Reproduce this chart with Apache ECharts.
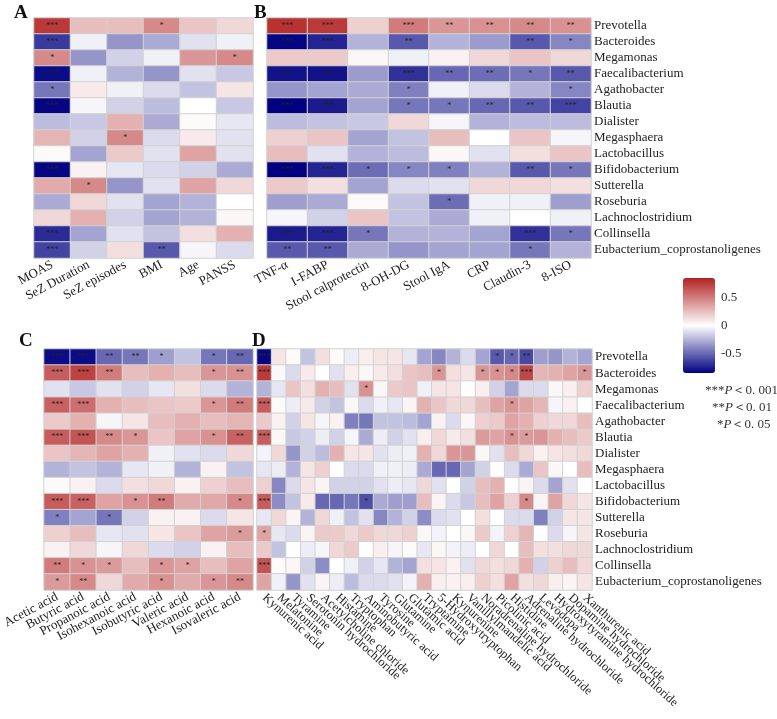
<!DOCTYPE html>
<html><head><meta charset="utf-8">
<script src="https://cdn.jsdelivr.net/npm/echarts@6/dist/echarts.min.js"></script>
<style>html,body{margin:0;padding:0;background:#fff}#c{width:777px;height:719px}</style>
</head><body><div id="c"></div>
<script>
const bacteria = ['Prevotella','Bacteroides','Megamonas','Faecalibacterium','Agathobacter','Blautia','Dialister','Megasphaera','Lactobacillus','Bifidobacterium','Sutterella','Roseburia','Lachnoclostridium','Collinsella','Eubacterium_coprostanoligenes'];

const colsA = ['MOAS','SeZ Duration','SeZ episodes','BMI','Age','PANSS'];
const valsA = [
 [0.75,0.25,0.25,0.45,0.22,0.15],
 [-0.65,-0.05,-0.35,-0.28,-0.1,-0.05],
 [0.45,-0.35,-0.15,-0.05,0.4,0.45],
 [-0.8,-0.05,-0.25,-0.35,-0.1,-0.18],
 [-0.45,0.08,-0.05,-0.12,-0.2,0.1],
 [-0.82,-0.03,-0.15,-0.22,0,-0.18],
 [-0.22,-0.18,0.3,-0.28,0.02,-0.08],
 [0.28,-0.15,0.45,-0.12,0.08,-0.1],
 [0.02,-0.3,0.2,-0.1,0.35,-0.1],
 [-0.82,0.05,-0.08,-0.12,-0.15,-0.28],
 [0.32,0.45,-0.35,-0.1,0.35,0.15],
 [-0.28,0.15,-0.1,-0.3,-0.25,0],
 [0.15,0.3,-0.15,-0.3,-0.25,0.03],
 [-0.7,-0.3,-0.1,-0.2,0.12,0.3],
 [-0.62,-0.15,0.12,-0.55,-0.03,-0.12]
];
// [row, col, number of stars]
const starsA = [[0,0,3],[0,3,1],[1,0,3],[2,0,1],[2,5,1],[3,0,3],[4,0,1],[5,0,3],[7,2,1],[9,0,3],[10,1,1],[13,0,3],[14,0,3],[14,3,2]];

const colsB = ['TNF-α','I-FABP','Stool calprotectin','8-OH-DG','Stool IgA','CRP','Claudin-3','8-ISO'];
const valsB = [
 [0.78,0.75,0.18,0.5,0.4,0.42,0.45,0.42],
 [-0.82,-0.72,-0.25,-0.55,-0.25,-0.33,-0.55,-0.4],
 [0.2,0.2,0.03,-0.05,0.05,0.15,0.22,0.15],
 [-0.78,-0.78,-0.33,-0.68,-0.5,-0.48,-0.45,-0.55],
 [-0.35,-0.3,-0.28,-0.42,-0.05,-0.12,-0.25,-0.4],
 [-0.85,-0.75,-0.3,-0.45,-0.45,-0.5,-0.55,-0.62],
 [-0.22,-0.2,-0.18,0.15,-0.03,-0.25,-0.22,-0.22],
 [0.18,0.22,-0.3,-0.2,0.25,0,0.22,-0.03],
 [0.25,-0.1,-0.25,-0.22,0.03,-0.1,0.12,0.22],
 [-0.85,-0.72,-0.48,-0.4,-0.42,-0.25,-0.55,-0.45],
 [0.2,0.12,-0.3,-0.12,-0.1,0.15,0.15,0.12],
 [-0.32,-0.28,0.02,-0.2,-0.48,-0.05,-0.05,-0.32],
 [-0.03,-0.15,0.22,-0.2,-0.28,-0.05,0,-0.05],
 [-0.75,-0.72,-0.45,-0.25,-0.25,-0.3,-0.68,-0.45],
 [-0.55,-0.55,-0.28,-0.35,-0.3,-0.3,-0.45,-0.25]
];
const starsB = [
 [0,0,3],[0,1,3],[0,3,3],[0,4,2],[0,5,2],[0,6,2],[0,7,2],
 [1,0,3],[1,1,3],[1,3,2],[1,6,2],[1,7,1],
 [3,0,3],[3,1,3],[3,3,3],[3,4,2],[3,5,2],[3,6,1],[3,7,2],
 [4,3,1],[4,7,1],
 [5,0,3],[5,1,3],[5,3,1],[5,4,1],[5,5,2],[5,6,2],[5,7,3],
 [9,0,3],[9,1,3],[9,2,1],[9,3,1],[9,4,1],[9,6,2],[9,7,1],
 [11,4,1],
 [13,0,3],[13,1,3],[13,2,1],[13,6,3],[13,7,1],
 [14,0,2],[14,1,2],[14,6,1]
];

const colsC = ['Acetic acid','Butyric acid','Propanoic acid','Isohexanoic acid','Isobutyric acid','Valeric acid','Hexanoic acid','Isovaleric acid'];
const valsC = [
 [-0.8,-0.8,-0.5,-0.45,-0.32,-0.2,-0.45,-0.5],
 [0.62,0.72,0.5,0.25,0.3,0.25,0.4,0.42],
 [-0.1,-0.18,-0.1,-0.15,-0.08,0.12,-0.12,-0.25],
 [0.6,0.55,0.3,0.25,0.22,0.2,0.4,0.5],
 [0.2,0.3,-0.03,0.1,0.25,0.3,0.25,0.28],
 [0.62,0.65,0.45,0.4,0.22,0.35,0.42,0.6],
 [0.22,0.28,0.35,0.3,-0.05,-0.1,-0.12,0.15],
 [-0.25,-0.2,-0.25,-0.08,-0.05,-0.25,0.05,-0.2],
 [0.02,0.05,-0.12,0.12,0.15,0.05,0.18,0.25],
 [0.62,0.6,0.35,0.42,0.5,0.32,0.33,0.45],
 [-0.42,-0.3,-0.45,-0.15,0.05,0.05,-0.12,0.1],
 [0.18,0.25,-0.08,-0.1,0.1,0.22,0.35,0.38],
 [0.05,0.15,-0.03,0.15,-0.12,-0.15,0.05,0.25],
 [0.5,0.42,0.38,0.25,0.4,0.35,0.25,0.35],
 [0.38,0.45,0.15,0.32,0.42,0.32,0.4,0.45]
];
const starsC = [
 [0,0,3],[0,1,3],[0,2,2],[0,3,2],[0,4,1],[0,6,1],[0,7,2],
 [1,0,3],[1,1,3],[1,2,2],[1,6,1],[1,7,2],
 [3,0,3],[3,1,3],[3,6,1],[3,7,2],
 [5,0,3],[5,1,3],[5,2,2],[5,3,1],[5,6,1],[5,7,2],
 [9,0,3],[9,1,3],[9,3,1],[9,4,2],[9,7,1],
 [10,0,1],[10,2,1],
 [11,7,1],
 [13,0,2],[13,1,1],[13,2,1],[13,4,1],[13,5,1],
 [14,0,1],[14,1,2],[14,4,1],[14,6,1],[14,7,2]
];

const colsD = ['Kynurenic acid','Melatonine','Tyramine','Serotonin hydrochloride','Acetylcholine chloride','Histamine','Tryptophan','Aminobutyric acid','Tyrosine','Glutamine','Glutamic acid','Tryptamine','5-Hydroxytryptophan','Kynurenine','Vanillylmandelic acid','Noradrenaline hydrochloride','Picolinic acid','Histidine','Adrenaline hydrochloride','Levodopa','Hydroxytyramine hydrochloride','Dopamine hydrochloride','Xanthurenic acid'];
const valsD = [
 [-0.82,0.1,0.02,-0.2,0.12,0.02,-0.06,0.06,0.1,0.1,-0.08,-0.3,-0.4,-0.25,-0.12,-0.3,-0.55,-0.5,-0.6,-0.32,-0.35,-0.25,-0.3],
 [0.75,-0.02,-0.12,0.08,0,-0.1,0.06,0.03,0.08,0.12,0.22,0.25,0.4,0.12,0.1,0.4,0.42,0.45,0.7,0.28,0.3,0.35,0.4],
 [-0.25,-0.08,0.22,0.12,0.3,0.25,-0.1,0.42,0.03,0.2,0.22,-0.05,0.1,0.1,0,0.06,-0.15,-0.3,-0.12,-0.12,0.03,0.06,0.18],
 [0.62,0.02,-0.06,0.08,-0.15,-0.2,0.03,-0.12,-0.05,-0.08,0.04,0.3,0.22,0.15,0.15,0.25,0.35,0.4,0.35,0.28,-0.03,0.05,0],
 [0.2,0.05,-0.15,0.1,-0.03,0.05,-0.42,-0.45,-0.2,-0.2,-0.22,-0.3,0.05,-0.12,0.03,0.18,0.2,0.35,0.3,0.18,0.15,0.15,0.25],
 [0.62,0.03,-0.18,-0.15,-0.06,-0.15,-0.03,-0.28,-0.06,-0.15,-0.1,0.06,0.15,0.08,0.12,0.38,0.35,0.42,0.38,0.4,0.3,0.25,0.2],
 [-0.04,0.15,-0.35,-0.15,-0.22,0.3,0.1,0.1,-0.1,-0.06,-0.05,0.3,0.15,0.4,0.4,0.03,-0.1,0.25,0.15,0.05,0.1,0.12,0.15],
 [-0.08,-0.06,-0.25,0.1,0.18,0,-0.12,-0.12,-0.05,-0.05,-0.06,-0.28,-0.5,-0.5,-0.3,-0.15,0,-0.12,-0.28,0.22,0.03,0,0.25],
 [0.18,-0.4,-0.12,0.1,0.04,-0.15,-0.15,-0.15,-0.1,-0.06,-0.08,0.15,-0.1,0,-0.15,0.25,0.3,0,0.04,-0.12,-0.3,-0.1,0],
 [0.62,-0.38,-0.2,0.08,-0.5,-0.5,-0.45,-0.58,-0.28,-0.32,-0.32,0.25,0.04,-0.12,-0.18,0.25,0.35,0.18,0.45,0.04,0.35,0.15,0.1],
 [-0.08,0.15,0.04,-0.25,0.15,-0.05,-0.2,-0.1,-0.4,-0.25,-0.15,-0.38,-0.12,-0.1,0,0.12,0,-0.12,-0.12,-0.42,-0.15,0.1,0.1],
 [0.35,-0.08,-0.12,0.04,0.2,0.2,0.15,0.2,0.15,0.15,0.18,0.03,-0.04,0,0.03,0.2,-0.04,0.18,0.28,0,-0.12,-0.03,0.1],
 [0.2,-0.2,0,-0.06,-0.03,0.15,0.2,0,0.06,-0.03,0.02,-0.08,0.03,-0.04,-0.06,0,0.15,0,0.25,0.12,0.12,0.15,0.15],
 [0.65,0.02,0.03,-0.15,-0.38,0,-0.05,-0.15,-0.08,-0.25,-0.3,0.12,0.1,0.05,-0.1,0.15,0.12,0.15,0.3,-0.15,0.18,0.25,0.15],
 [0.35,-0.05,-0.35,-0.1,0.04,-0.06,-0.22,-0.12,-0.12,-0.1,-0.04,0.3,0.06,0.05,0.06,0.18,0.12,0.35,0.12,0.15,0.06,0.04,0.1]
];
const starsD = [
 [0,0,3],[0,16,1],[0,17,1],[0,18,2],
 [1,0,3],[1,12,1],[1,15,1],[1,16,1],[1,17,1],[1,18,3],[1,22,1],
 [2,7,1],
 [3,0,3],[3,17,1],
 [5,0,3],[5,17,1],[5,18,1],
 [9,0,3],[9,7,1],[9,18,1],
 [11,0,1],
 [13,0,3]
];

const colorbarTicks = [-0.5, 0, 0.5];
const scaleMin = -0.84, scaleMax = 0.84;

const FONT = '"Liberation Serif","Times New Roman",serif';

function build(vals, stars) {
  const s = vals.map(r => r.map(() => ''));
  stars.forEach(([r, c, n]) => { s[r][c] = '*'.repeat(n); });
  const d = [];
  vals.forEach((row, r) => row.forEach((v, c) => d.push([c, r, v, s[r][c]])));
  return d;
}

const grids = [
  {left: 34, top: 18, width: 219, height: 240},
  {left: 267, top: 18, width: 324, height: 240},
  {left: 36, top: 349, width: 217, height: 241},
  {left: 257, top: 349, width: 335, height: 241},
  {left: 683, top: 278, width: 32, height: 95}
];

function xAx(i, cols, rot, fs, margin) {
  return {type: 'category', gridIndex: i, data: cols, position: 'bottom',
    axisLine: {show: false}, axisTick: {show: false}, splitLine: {show: false},
    axisLabel: {rotate: rot, interval: 0, margin: margin, fontFamily: FONT, fontSize: fs, color: '#222'}};
}
function yAx(i, show) {
  return {type: 'category', gridIndex: i, data: bacteria, inverse: true, position: 'right',
    axisLine: {show: false}, axisTick: {show: false}, splitLine: {show: false},
    axisLabel: {show: show, interval: 0, margin: 3, fontFamily: FONT, fontSize: 13, color: '#222'}};
}
function hm(i, vals, stars) {
  return {type: 'heatmap', xAxisIndex: i, yAxisIndex: i, data: build(vals, stars),
    itemStyle: {borderColor: '#d2d2d2', borderWidth: 1},
    label: {show: true, formatter: p => p.data[3], fontSize: 8, color: '#222', fontFamily: FONT},
    emphasis: {disabled: true}, silent: true};
}

const legendLines = [
  {x: 705, y: 392, stars: '***', rest: '＜0. 001'},
  {x: 712, y: 409, stars: '**', rest: '＜0. 01'},
  {x: 717, y: 426, stars: '*', rest: '＜0. 05'}
];

const chart = echarts.init(document.getElementById('c'), null, {renderer: 'canvas'});
chart.setOption({
  animation: false,
  backgroundColor: '#fff',
  grid: grids,
  xAxis: [
    xAx(0, colsA, 28, 13, 6),
    xAx(1, colsB, 28, 13, 6),
    xAx(2, colsC, 28, 13, 6),
    xAx(3, colsD, -42, 12.5, 6),
    {type: 'value', gridIndex: 4, show: false, min: 0, max: 1}
  ],
  yAxis: [
    yAx(0, false), yAx(1, true), yAx(2, false), yAx(3, true),
    {type: 'value', gridIndex: 4, min: scaleMin, max: scaleMax, position: 'right',
      axisLine: {show: false}, splitLine: {show: false},
      axisTick: {show: true, length: 4, customValues: colorbarTicks, lineStyle: {color: '#555'}},
      axisLabel: {customValues: colorbarTicks, margin: 6, fontFamily: FONT, fontSize: 13, color: '#333'}}
  ],
  visualMap: {
    type: 'continuous', min: scaleMin, max: scaleMax, seriesIndex: [0, 1, 2, 3], dimension: 2,
    calculable: false, orient: 'vertical', left: 683, top: 278, itemWidth: 32, itemHeight: 95,
    padding: 0, hoverLink: false, realtime: false, showLabel: false,
    inRange: {color: ['#000080', '#ffffff', '#B22222']}
  },
  series: [hm(0, valsA, starsA), hm(1, valsB, starsB), hm(2, valsC, starsC), hm(3, valsD, starsD)],
  graphic: [
    {type: 'text', left: 14, top: 4, style: {text: 'A', font: 'bold 19px ' + FONT, fill: '#111'}},
    {type: 'text', left: 254, top: 4, style: {text: 'B', font: 'bold 19px ' + FONT, fill: '#111'}},
    {type: 'text', left: 19, top: 332, style: {text: 'C', font: 'bold 19px ' + FONT, fill: '#111'}},
    {type: 'text', left: 252, top: 332, style: {text: 'D', font: 'bold 19px ' + FONT, fill: '#111'}}
  ].concat(legendLines.map(l => ({
    type: 'text', left: l.x, top: l.y - 8,
    style: {
      text: '{s|' + l.stars + '}{p|P}{s|' + l.rest + '}',
      rich: {
        s: {fontFamily: FONT, fontSize: 13, fill: '#333'},
        p: {fontFamily: FONT, fontSize: 13, fontStyle: 'italic', fill: '#333'}
      }
    }
  })))
});
</script>
</body></html>
